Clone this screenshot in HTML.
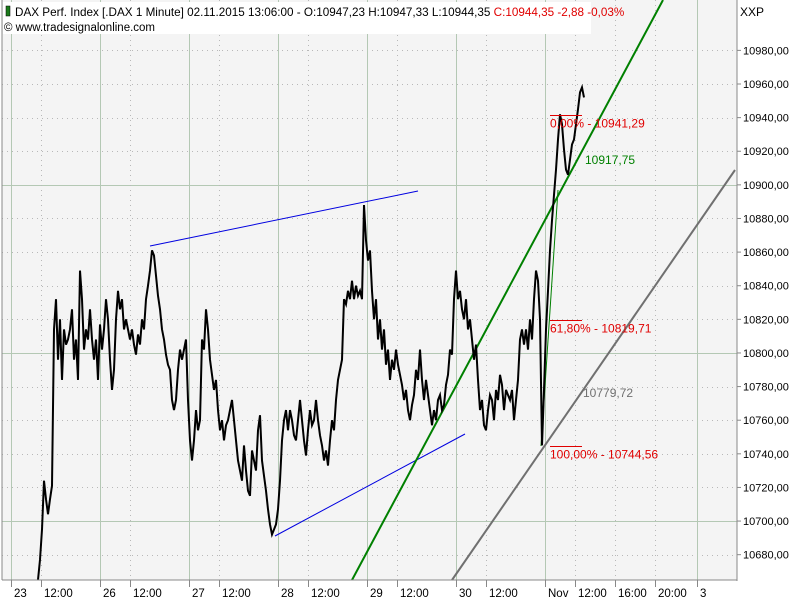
<!DOCTYPE html>
<html><head><meta charset="utf-8"><style>
body{margin:0;background:#fff;font-family:"Liberation Sans",sans-serif}
svg{display:block}
text{font-family:"Liberation Sans",sans-serif;font-size:12px}
</style></head><body>
<svg id="chart" width="800" height="600">
<rect x="2" y="0" width="735" height="580" fill="#f4f4f4"/>
<g id="grid"></g>
<g id="lines"></g>
<g id="series"></g>
<g id="fib"></g>
<line x1="2" y1="0" x2="2" y2="580" stroke="#888"/>
<line x1="737" y1="0" x2="737" y2="581" stroke="#888"/>
<line x1="2" y1="580" x2="737" y2="580" stroke="#888"/>
<g id="yaxis"></g>
<g id="xaxis"></g>
<text x="740" y="16">XXP</text>
<rect x="3" y="2" width="588" height="32" fill="#fff"/>
<rect x="6" y="6" width="4" height="10" fill="#1a7a1a" stroke="#000" stroke-width="0.5"/>
<text x="15" y="16" style="font-size:11.7px">DAX Perf. Index [.DAX  1 Minute] 02.11.2015 13:06:00 - O:10947,23 H:10947,33 L:10944,35 <tspan fill="#e00000">C:10944,35 -2,88 -0,03%</tspan></text>
<text x="4" y="31" style="font-size:11.5px">© www.tradesignalonline.com</text>
</svg>
<script>
const NS="http://www.w3.org/2000/svg";
const yTicks=[10680,10700,10720,10740,10760,10780,10800,10820,10840,10860,10880,10900,10920,10940,10960,10980];
const yMajor=[10700,10800,10900];
const xTickLabels=["23","12:00","26","12:00","27","12:00","28","12:00","29","12:00","30","12:00","Nov","12:00","16:00","20:00","3"];
const xTickPos=[11,41,100,130,189,219,278,308,367,397,456,486,545,575,615,655,697];
const xMajorIdx=[0,2,4,6,8,10,12,16];
const prices=[10665,10677,10695,10724,10713,10704,10713,10721,10814,10832,10796,10820,10784,10814,10805,10808,10814,10826,10796,10808,10784,10849,10832,10802,10814,10808,10826,10808,10796,10808,10784,10817,10802,10814,10832,10820,10796,10778,10790,10820,10837,10826,10832,10814,10820,10814,10808,10814,10805,10799,10811,10805,10820,10814,10832,10840,10849,10861,10858,10846,10834,10826,10814,10808,10799,10793,10790,10772,10766,10772,10790,10802,10796,10802,10808,10772,10748,10736,10748,10766,10754,10760,10808,10802,10826,10814,10796,10787,10778,10784,10766,10754,10760,10748,10757,10760,10766,10772,10760,10748,10736,10730,10724,10745,10730,10718,10715,10742,10736,10730,10754,10763,10736,10727,10718,10707,10698,10692,10695,10698,10707,10724,10748,10760,10766,10754,10766,10760,10751,10748,10760,10772,10760,10748,10739,10754,10766,10757,10760,10772,10760,10751,10745,10736,10742,10733,10748,10760,10754,10772,10784,10790,10796,10832,10829,10837,10832,10843,10832,10840,10834,10837,10832,10888,10867,10855,10861,10837,10820,10832,10808,10820,10802,10814,10793,10802,10784,10796,10790,10802,10793,10787,10781,10772,10778,10766,10760,10769,10775,10790,10784,10802,10784,10772,10784,10775,10766,10757,10766,10760,10772,10775,10766,10769,10781,10787,10802,10799,10832,10849,10832,10837,10826,10820,10832,10814,10820,10808,10796,10805,10784,10766,10772,10757,10754,10766,10775,10772,10760,10778,10772,10787,10781,10766,10778,10775,10772,10778,10760,10772,10784,10808,10814,10805,10814,10802,10820,10808,10832,10849,10843,10820,10745,10778,10814,10837,10861,10879,10894,10909,10927,10942,10936,10921,10909,10906,10915,10924,10927,10936,10945,10955,10958,10952];
const fibLevels=[10941.29,10819.71,10744.56];
const fibLabels=["0,00% - 10941,29","61,80% - 10819,71","100,00% - 10744,56"];
const yS=v=>84+(10960-v)*1.681;
const xS=i=>38+i*2;
function mk(tag,attrs,parent){const e=document.createElementNS(NS,tag);for(const k in attrs)e.setAttribute(k,attrs[k]);parent.appendChild(e);return e;}
const grid=document.getElementById('grid');
yTicks.forEach(v=>{const major=yMajor.includes(v);const y=Math.round(yS(v))+0.5;
 const l=mk('line',{x1:2,x2:737,y1:y,y2:y,stroke:major?'#b4c8b4':'#b8b8b8','stroke-width':1,'stroke-dasharray':major?'':'1,4'},grid);
 
 });
xTickPos.forEach((x,i)=>{const major=xMajorIdx.includes(i);
 const l=mk('line',{x1:x+0.5,x2:x+0.5,y1:0,y2:580,stroke:major?'#b4c8b4':'#b8b8b8','stroke-dasharray':major?'':'1,4'},grid);
 
 });
const ya=document.getElementById('yaxis');
yTicks.forEach(v=>{const y=yS(v);
 const t=mk('line',{x1:737,x2:741,y1:y,y2:y,stroke:'#888'},ya);
 
 
 const tx=mk('text',{x:743,y:y+4,style:'font-size:11px'},ya);tx.textContent=v.toFixed(2).replace('.',',');
 
 });
const xa=document.getElementById('xaxis');
xTickLabels.forEach((s,i)=>{const x=xTickPos[i];
 const t=mk('line',{x1:x+0.5,x2:x+0.5,y1:580,y2:587,stroke:'#888'},xa);
 
 
 const tx=mk('text',{x:x+3,y:597,style:'font-size:11.5px'},xa);tx.textContent=s;
 
 });
const ln=document.getElementById('lines');
[[150,246,418,191,'#0000e0',1],[275,536,465,434,'#0000e0',1],[352,580,663,0,'#008000',2],[452,580,735,170,'#707070',2],[541,446,558,190,'#008000',1]].forEach(a=>{
 const l=mk('line',{x1:a[0],y1:a[1],x2:a[2],y2:a[3],stroke:a[4],'stroke-width':a[5]},ln);
 
 });
const lt1=mk('text',{x:585,y:164,fill:'#008000'},ln);lt1.textContent='10917,75';


const lt2=mk('text',{x:583,y:397,fill:'#707070'},ln);lt2.textContent='10779,72';


const sr=document.getElementById('series');
const p=mk('path',{d:prices.map((v,i)=>(i?'L':'M')+xS(i)+','+yS(v).toFixed(1)).join(''),fill:'none',stroke:'#000','stroke-width':2},sr);


const fb=document.getElementById('fib');
fibLevels.forEach((v,i)=>{const y=Math.round(yS(v))+0.5;
 const l=mk('line',{x1:550,x2:582,y1:y,y2:y,stroke:'#e00000'},fb);
 
 
 const t=mk('text',{x:550,y:y+12,fill:'#e00000'},fb);t.textContent=fibLabels[i];
 
 });
</script>
</body></html>
